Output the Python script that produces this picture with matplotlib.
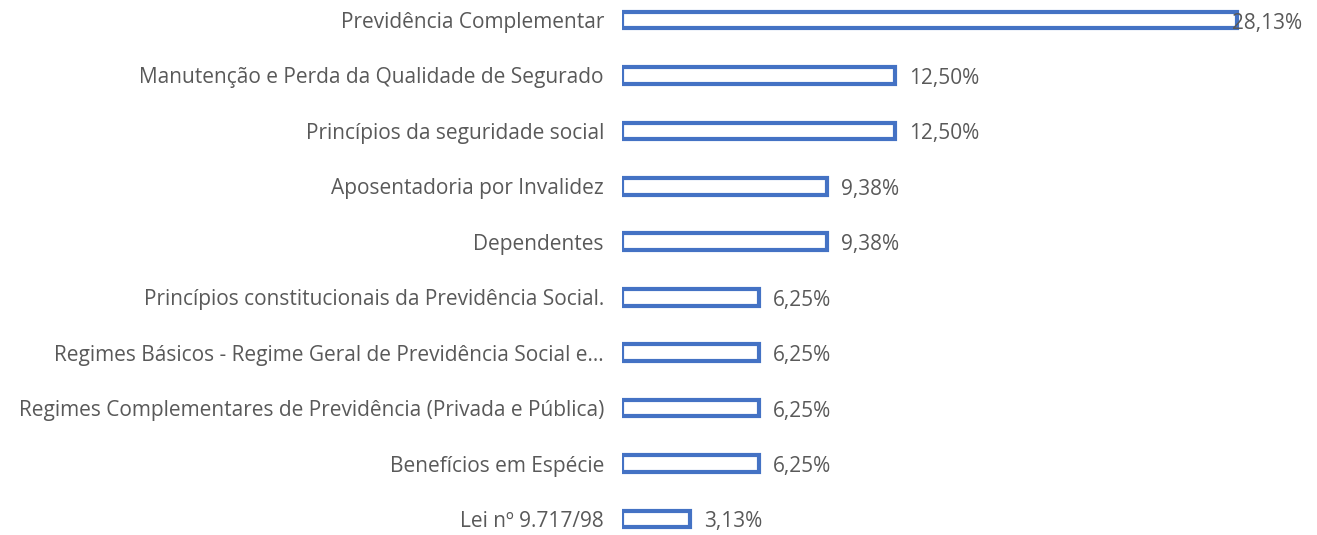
import matplotlib.pyplot as plt

# dados do gráfico
categorias = [
    "Previdência Complementar",
    "Manutenção e Perda da Qualidade de Segurado",
    "Princípios da seguridade social",
    "Aposentadoria por Invalidez",
    "Dependentes",
    "Princípios constitucionais da Previdência Social.",
    "Regimes Básicos - Regime Geral de Previdência Social e…",
    "Regimes Complementares de Previdência (Privada e Pública)",
    "Benefícios em Espécie",
    "Lei nº 9.717/98",
]
valores = [28.13, 12.50, 12.50, 9.38, 9.38, 6.25, 6.25, 6.25, 6.25, 3.13]

AZUL = "#4472C4"
CINZA = "#595959"

plt.rcParams['font.family'] = ['Open Sans', 'DejaVu Sans']

fig = plt.figure(figsize=(13.17, 5.35), dpi=100)
ax = fig.add_axes([622 / 1317, 0, 695 / 1317, 1])

y = list(range(len(categorias)))
ax.barh(y, valores, height=0.30, color="white", edgecolor=AZUL, linewidth=3.0)

ax.set_xlim(0, 31.8)
ax.set_ylim(9 + 16 / 55.4, -20 / 55.4)

ax.set_yticks(y)
ax.set_yticklabels(categorias, fontsize=15, color=CINZA)
ax.tick_params(axis='y', length=0, pad=13)
ax.set_xticks([])
for s in ax.spines.values():
    s.set_visible(False)

# rótulos de valor (o maior fica por cima do fim da barra, como no Excel)
vmax = max(valores)
for yi, v in zip(y, valores):
    txt = f"{v:.2f}%".replace('.', ',')
    dx = -5 if v == vmax else 14
    ax.annotate(txt, (v, yi), xytext=(dx, -3), textcoords='offset pixels',
                va='center', ha='left', fontsize=15, color=CINZA)

fig.savefig("out.png", dpi=100)
